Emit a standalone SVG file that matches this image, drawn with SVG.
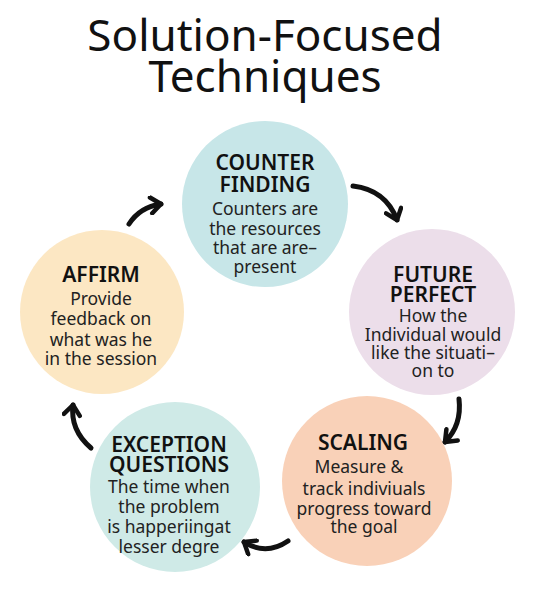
<svg xmlns="http://www.w3.org/2000/svg" width="535" height="594" viewBox="0 0 535 594">
<style>
.title{font-family:"Noto Sans","Open Sans",sans-serif;font-size:44px;fill:#111;text-anchor:middle}
.h{font-family:"Noto Sans","Open Sans",sans-serif;font-size:21px;font-weight:600;fill:#111;text-anchor:middle}
.b{font-family:"Noto Sans","Open Sans",sans-serif;font-size:17.5px;fill:#222;text-anchor:middle}
.arrow{fill:none;stroke:#111;stroke-width:5;stroke-linecap:round}
</style>
<defs>
<marker id="ah" viewBox="0 0 20 20" refX="15" refY="10" markerWidth="20" markerHeight="20" markerUnits="userSpaceOnUse" orient="auto">
<path d="M5,2 L15,10 L5,18" fill="none" stroke="#111" stroke-width="4.5" stroke-linecap="round" stroke-linejoin="round"/>
</marker>
</defs>
<rect width="535" height="594" fill="#fff"/>
<text class="title" x="265" y="51">Solution-Focused</text>
<text class="title" x="265" y="92">Techniques</text>
<g id="counter-finding">
<circle cx="265" cy="204" r="83" fill="#c7e6e8"/>
<text class="h" x="265" y="170">COUNTER</text>
<text class="h" x="265" y="192">FINDING</text>
<text class="b" x="265" y="215">Counters are</text>
<text class="b" x="265" y="235">the resources</text>
<text class="b" x="265" y="254">that are are–</text>
<text class="b" x="265" y="273">present</text>
</g>
<g id="future-perfect">
<circle cx="432" cy="312" r="83" fill="#ecdeea"/>
<text class="h" x="433" y="282">FUTURE</text>
<text class="h" x="433" y="302">PERFECT</text>
<text class="b" x="433" y="322">How the</text>
<text class="b" x="433" y="341">Individual would</text>
<text class="b" x="433" y="359">like the situati–</text>
<text class="b" x="433" y="377">on to</text>
</g>
<g id="scaling">
<circle cx="367" cy="481" r="85" fill="#f9d1b8"/>
<text class="h" x="363" y="450">SCALING</text>
<text class="b" x="359" y="473">Measure &amp;</text>
<text class="b" x="364" y="495">track indiviuals</text>
<text class="b" x="364" y="515">progress toward</text>
<text class="b" x="364" y="533">the goal</text>
</g>
<g id="exception-questions">
<circle cx="175" cy="487" r="85" fill="#cfeae7"/>
<text class="h" x="169" y="452">EXCEPTION</text>
<text class="h" x="169" y="472">QUESTIONS</text>
<text class="b" x="169" y="493">The time when</text>
<text class="b" x="169" y="513">the problem</text>
<text class="b" x="169" y="533">is happeriingat</text>
<text class="b" x="169" y="553">lesser degre</text>
</g>
<g id="affirm">
<circle cx="102" cy="312" r="82" fill="#fce7c3"/>
<text class="h" x="101" y="282">AFFIRM</text>
<text class="b" x="101" y="305">Provide</text>
<text class="b" x="101" y="325">feedback on</text>
<text class="b" x="101" y="346">what was he</text>
<text class="b" x="101" y="365">in the session</text>
</g>
<g id="connectors">
<path class="arrow" d="M129,224 Q140,207 161,204" marker-end="url(#ah)"/>
<path class="arrow" d="M353,186 Q386,190 397,220" marker-end="url(#ah)"/>
<path class="arrow" d="M459,399 Q462,425 445,442" marker-end="url(#ah)"/>
<path class="arrow" d="M288,541 Q266,556 244,542" marker-end="url(#ah)"/>
<path class="arrow" d="M91,448 Q70,430 73,405" marker-end="url(#ah)"/>
</g>
</svg>
